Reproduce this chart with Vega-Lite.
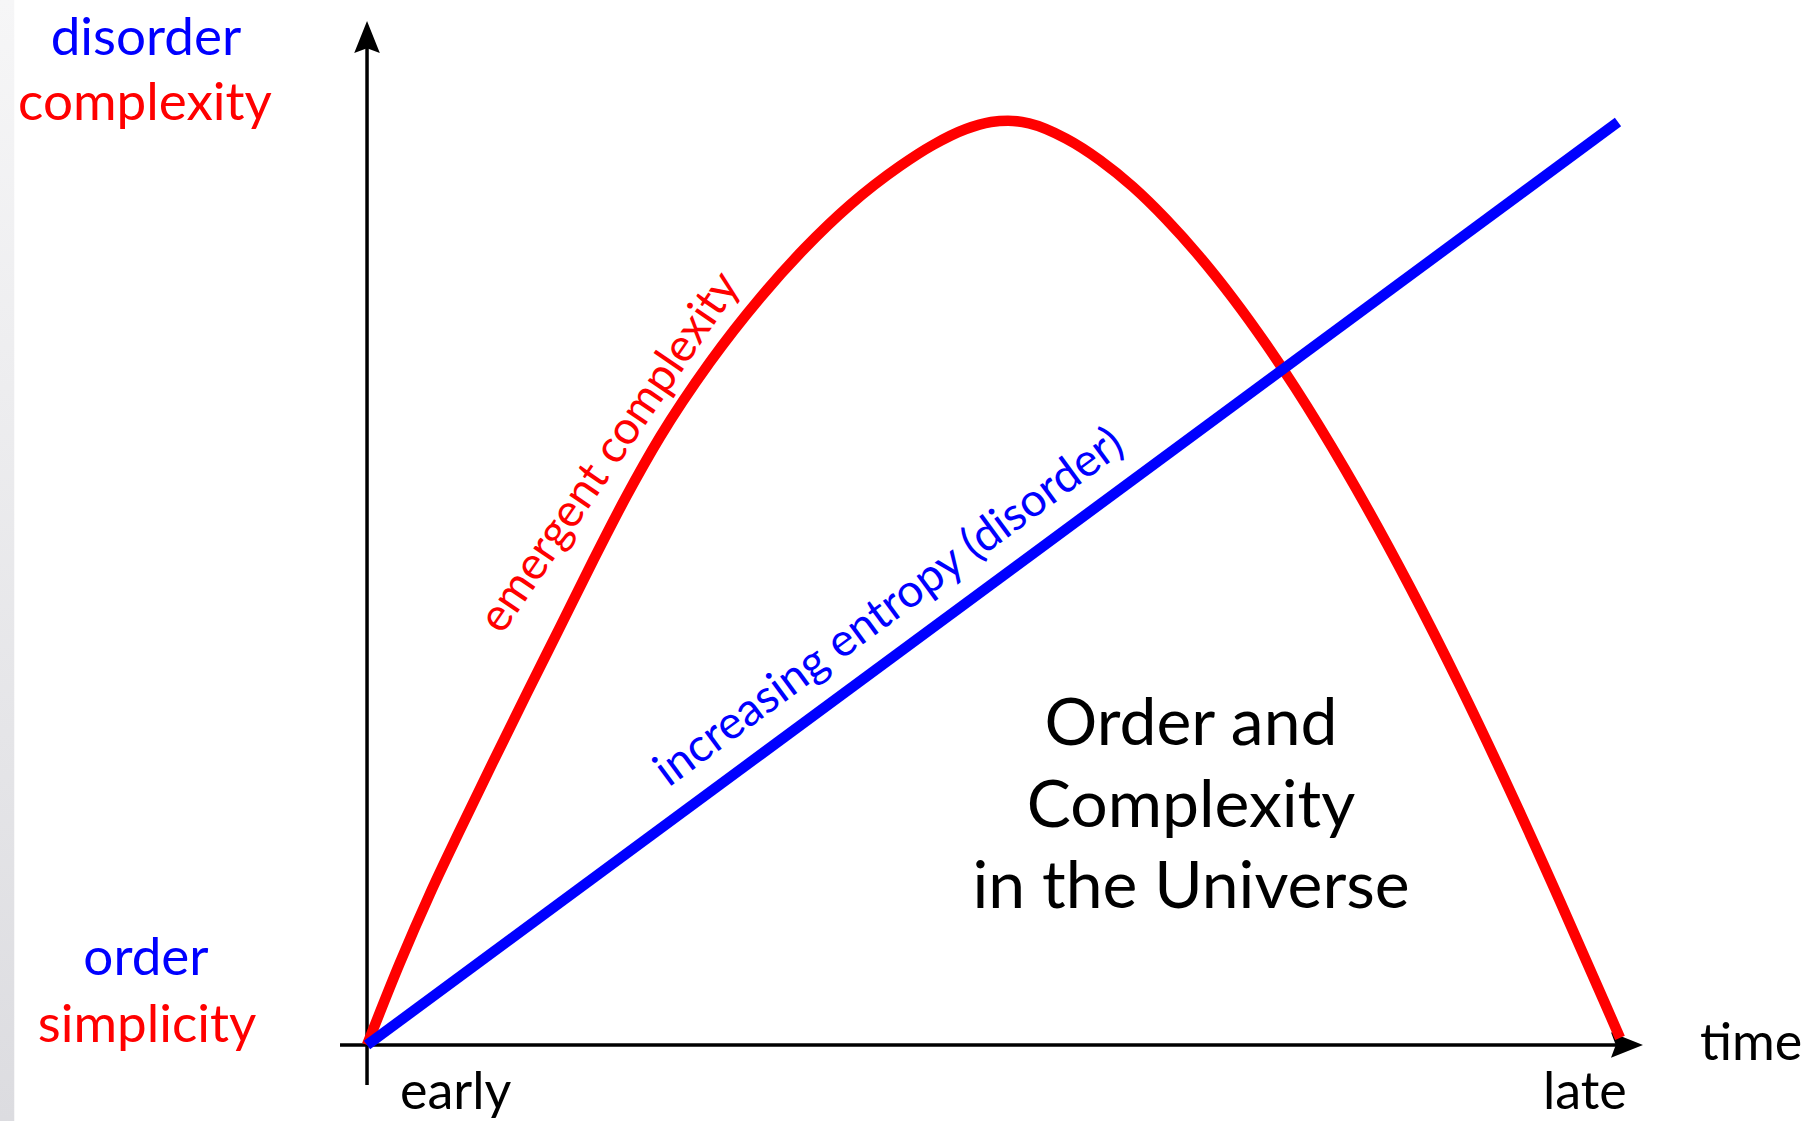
{
  "$schema": "https://vega.github.io/schema/vega-lite/v6.json",
  "width": 1808,
  "height": 1121,
  "padding": 0,
  "autosize": {"type": "none"},
  "background": "white",
  "config": {"view": {"stroke": null}, "text": {"font": "Lato"}},
  "datasets": {
    "edge": [{"time": -29.34, "time2": -28.2, "level": -8.23, "level2": 113.22}],
    "xaxis": [{"time": -2.16, "time2": 101, "level": 0}],
    "yaxis": [{"time": 0, "level": -4.33, "level2": 109.5}],
    "xhead": [{"time": 100.72, "level": 0}],
    "yhead": [{"time": 0, "level": 109.2}],
    "entropy": [{"time": 0, "level": 0}, {"time": 100, "level": 100}],
    "complexity": [
      {"time": 0, "level": 0},
      {"time": 2.638, "level": 8.938},
      {"time": 5.036, "level": 16.41},
      {"time": 7.434, "level": 23.29},
      {"time": 10.07, "level": 30.66},
      {"time": 12.79, "level": 38.14},
      {"time": 15.43, "level": 45.29},
      {"time": 18.07, "level": 52.48},
      {"time": 20.7, "level": 59.37},
      {"time": 23.42, "level": 65.87},
      {"time": 27.42, "level": 74.0},
      {"time": 31.41, "level": 80.93},
      {"time": 35.01, "level": 86.35},
      {"time": 38.61, "level": 91.01},
      {"time": 42.61, "level": 95.23},
      {"time": 45.24, "level": 97.51},
      {"time": 47.88, "level": 99.24},
      {"time": 49.88, "level": 100.0},
      {"time": 51.24, "level": 100.15},
      {"time": 52.92, "level": 99.85},
      {"time": 55.88, "level": 98.2},
      {"time": 58.59, "level": 95.86},
      {"time": 61.23, "level": 92.97},
      {"time": 63.87, "level": 89.48},
      {"time": 66.59, "level": 85.37},
      {"time": 69.22, "level": 80.9},
      {"time": 71.86, "level": 75.95},
      {"time": 74.18, "level": 71.24},
      {"time": 78.18, "level": 62.37},
      {"time": 83.37, "level": 49.62},
      {"time": 87.37, "level": 38.92},
      {"time": 91.21, "level": 28.0},
      {"time": 95.36, "level": 15.6},
      {"time": 98.8, "level": 5.01},
      {"time": 100.16, "level": 0.78}
    ],
    "blueLeft": [
      {"label": "disorder", "time": -17.67, "level": 107.26},
      {"label": "order", "time": -17.67, "level": 7.58}
    ],
    "redLeft": [
      {"label": "complexity", "time": -17.75, "level": 100.22},
      {"label": "simplicity", "time": -17.59, "level": 0.33}
    ],
    "timeLabels": [
      {"label": "early", "time": 2.64, "level": -6.93},
      {"label": "late", "time": 94.0, "level": -6.93},
      {"label": "time", "time": 106.55, "level": -1.63}
    ],
    "title": [
      {"label": "Order and", "time": 65.87, "level": 32.5},
      {"label": "Complexity", "time": 65.87, "level": 23.62},
      {"label": "in the Universe", "time": 65.87, "level": 14.84}
    ],
    "redCurveLabel": [{"label": "emergent complexity", "time": 19.42, "level": 64.2}],
    "blueLineLabel": [{"label": "increasing entropy (disorder)", "time": 41.75, "level": 47.4}]
  },
  "encoding": {
    "x": {"field": "time", "type": "quantitative", "scale": {"domain": [-29.34, 115.19], "nice": false, "zero": false}, "axis": null},
    "y": {"field": "level", "type": "quantitative", "scale": {"domain": [-8.23, 113.22], "nice": false, "zero": false}, "axis": null}
  },
  "layer": [
    {
      "data": {"name": "edge"},
      "mark": {"type": "rect", "color": {"gradient": "linear", "x1": 0, "y1": 0, "x2": 0, "y2": 1, "stops": [{"offset": 0, "color": "#f6f6f7"}, {"offset": 1, "color": "#dcdce0"}]}},
      "encoding": {"x2": {"field": "time2"}, "y2": {"field": "level2"}}
    },
    {
      "data": {"name": "xaxis"},
      "mark": {"type": "rule", "color": "black", "strokeWidth": 3.5},
      "encoding": {"x2": {"field": "time2"}}
    },
    {
      "data": {"name": "yaxis"},
      "mark": {"type": "rule", "color": "black", "strokeWidth": 3.5},
      "encoding": {"y2": {"field": "level2"}}
    },
    {
      "data": {"name": "yhead"},
      "mark": {"type": "point", "filled": true, "color": "black", "opacity": 1, "size": 1024, "shape": "M0,-1L0.8,1L0,0.7L-0.8,1Z"}
    },
    {
      "data": {"name": "xhead"},
      "mark": {"type": "point", "filled": true, "color": "black", "opacity": 1, "size": 1024, "shape": "M1,0L-1,0.8L-0.7,0L-1,-0.8Z"}
    },
    {
      "data": {"name": "complexity"},
      "mark": {"type": "line", "color": "#ff0000", "strokeWidth": 10.5, "interpolate": "monotone", "strokeCap": "butt"},
      "encoding": {"order": {"field": "time", "type": "quantitative"}}
    },
    {
      "data": {"name": "entropy"},
      "mark": {"type": "line", "color": "#0000ff", "strokeWidth": 10.5, "strokeCap": "butt"},
      "encoding": {"order": {"field": "time", "type": "quantitative"}}
    },
    {
      "data": {"name": "blueLeft"},
      "mark": {"type": "text", "color": "#0000ff", "fontSize": 53, "align": "center", "baseline": "alphabetic"},
      "encoding": {"text": {"field": "label"}}
    },
    {
      "data": {"name": "redLeft"},
      "mark": {"type": "text", "color": "#ff0000", "fontSize": 53, "align": "center", "baseline": "alphabetic"},
      "encoding": {"text": {"field": "label"}}
    },
    {
      "data": {"name": "timeLabels"},
      "mark": {"type": "text", "color": "black", "fontSize": 52, "align": "left", "baseline": "alphabetic"},
      "encoding": {"text": {"field": "label"}}
    },
    {
      "data": {"name": "title"},
      "mark": {"type": "text", "color": "black", "fontSize": 66, "align": "center", "baseline": "alphabetic"},
      "encoding": {"text": {"field": "label"}}
    },
    {
      "data": {"name": "redCurveLabel"},
      "mark": {"type": "text", "color": "#ff0000", "fontSize": 46, "align": "center", "baseline": "middle", "angle": 304.3},
      "encoding": {"text": {"field": "label"}}
    },
    {
      "data": {"name": "blueLineLabel"},
      "mark": {"type": "text", "color": "#0000ff", "fontSize": 46, "align": "center", "baseline": "middle", "angle": 323.6},
      "encoding": {"text": {"field": "label"}}
    }
  ]
}
